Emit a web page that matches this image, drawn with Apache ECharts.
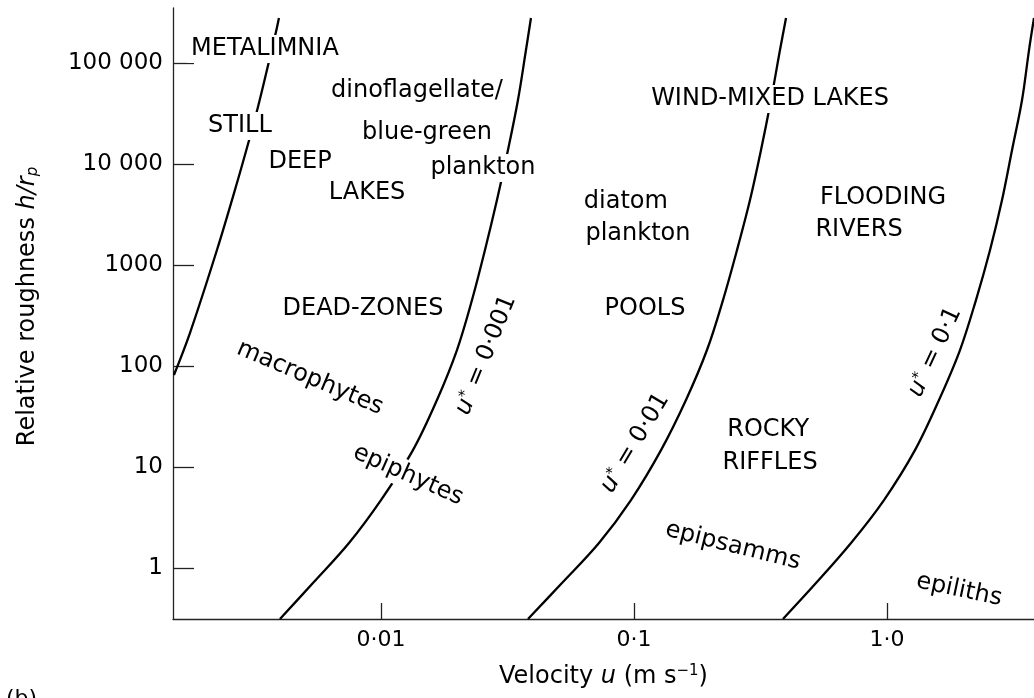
<!DOCTYPE html>
<html>
<head>
<meta charset="utf-8">
<script src="https://cdn.jsdelivr.net/npm/echarts@6/dist/echarts.min.js"></script>
<style>
html, body { margin: 0; padding: 0; background: #fff; }
#main { width: 1034px; height: 698px; }
</style>
</head>
<body>
<div id="main"></div>
<script>
var FONT = '"DejaVu Sans", sans-serif';
var INK = '#000';

// axis range and ticks (log scales)
var velMin = 0.001507, velMax = 3.81;
var roughMin = 0.3126, roughMax = 350800;
var velTicks = [0.01, 0.1, 1];
var velTickLabels = ['0·01', '0·1', '1·0'];
var roughTicks = [1, 10, 100, 1000, 10000, 100000];
var roughTickLabels = ['1', '10', '100', '1000', '10 000', '100 000'];

// left boundary line (still water)
var stillVel = [0.00152, 0.001758, 0.002248, 0.002697, 0.003036, 0.003265, 0.003543, 0.003846, 0.003952];
var stillRough = [81.5, 212, 1408, 6485, 18510, 36680, 85250, 202700, 279000];

// the three u* curves, read at the same roughness levels
var uRough = [0.313, 0.71, 1.77, 4.71, 14.7, 46.1, 144, 450, 1408, 4400, 13760, 43000, 134500, 279000];
var u1Vel = [0.003988, 0.005385, 0.007475, 0.01, 0.01338, 0.01665, 0.01997, 0.0229, 0.02577, 0.02874, 0.03177, 0.03479, 0.03742, 0.03916];
var u2Vel = [0.03811, 0.05192, 0.07272, 0.0973, 0.1279, 0.1605, 0.1943, 0.2248, 0.2554, 0.2874, 0.3177, 0.3479, 0.3776, 0.3989];
var u3Vel = [0.388, 0.524, 0.7208, 0.973, 1.29, 1.605, 1.943, 2.247, 2.554, 2.848, 3.12, 3.417, 3.641, 3.81];

// region annotations
var noteText = ['METALIMNIA', 'STILL', 'DEEP', 'LAKES', 'dinoflagellate/', 'blue-green', 'plankton',
  'WIND-MIXED LAKES', 'diatom', 'plankton', 'FLOODING', 'RIVERS', 'DEAD-ZONES', 'POOLS',
  'macrophytes', 'epiphytes',
  '{i|u}{s|*}{n| = 0·001}', '{i|u}{s|*}{n| = 0·01}', '{i|u}{s|*}{n| = 0·1}',
  'ROCKY', 'RIFFLES', 'epipsamms', 'epiliths'];
var noteVel = [0.00348, 0.00277, 0.00479, 0.00881, 0.01388, 0.0152, 0.0253,
  0.345, 0.0929, 0.1037, 0.964, 0.775, 0.00849, 0.1105,
  0.00524, 0.0128,
  0.026, 0.101, 1.548,
  0.339, 0.345, 0.246, 1.927];
var noteRough = [137700, 23800, 10470, 5160, 52800, 20280, 9120,
  44000, 4205, 2028, 4606, 2222, 367, 367,
  76, 8.3,
  128.5, 17.3, 137.6,
  23.2, 10.96, 1.65, 0.605];
var noteAngle = [0, 0, 0, 0, 0, 0, 0, 0, 0, 0, 0, 0, 0, 0, -23, -24, 68, 59, 65, 0, 0, -14, -12];
// labels that break the curve they sit on
var noteMasked = [0, 1, 6, 7, 15];

function pairs(xs, ys) {
  return xs.map(function (x, i) { return [x, ys[i]]; });
}

function curve(name, xs, ys) {
  return {
    name: name,
    type: 'line',
    data: pairs(xs, ys),
    smooth: 0.35,
    symbol: 'none',
    silent: true,
    z: 2,
    lineStyle: { color: INK, width: 2.3 }
  };
}

var myChart = echarts.init(document.getElementById('main'));

var option = {
  backgroundColor: '#fff',
  animation: false,
  grid: { left: 173, right: 0, top: 8, bottom: 79 },
  xAxis: {
    type: 'log',
    min: velMin,
    max: velMax,
    name: '{n|Velocity }{i|u}{n| (m s}{sup|−1}{n|)}',
    nameLocation: 'middle',
    nameGap: 45,
    nameTextStyle: {
      rich: {
        n: { fontFamily: FONT, fontSize: 24, color: INK, lineHeight: 26 },
        i: { fontFamily: FONT, fontSize: 24, color: INK, fontStyle: 'italic', lineHeight: 26 },
        sup: { fontFamily: FONT, fontSize: 15, color: INK, verticalAlign: 'top', lineHeight: 26, padding: [0, 0, 8, 0] }
      }
    },
    axisLine: { lineStyle: { color: '#222', width: 1.3 } },
    axisTick: { inside: true, length: 16, customValues: velTicks, lineStyle: { color: '#222', width: 1.3 } },
    axisLabel: {
      customValues: velTicks,
      margin: 10,
      fontFamily: FONT,
      fontSize: 22,
      color: INK,
      formatter: function (v) { return velTickLabels[velTicks.indexOf(v)] || ''; }
    },
    splitLine: { show: false },
    minorTick: { show: false }
  },
  yAxis: {
    type: 'log',
    min: roughMin,
    max: roughMax,
    name: '{n|Relative roughness }{i|h/r}{sub|p}',
    nameLocation: 'middle',
    nameGap: 132,
    nameTextStyle: {
      padding: [0, 0, 0, 14],
      rich: {
        n: { fontFamily: FONT, fontSize: 24, color: INK, lineHeight: 26 },
        i: { fontFamily: FONT, fontSize: 24, color: INK, fontStyle: 'italic', lineHeight: 26 },
        sub: { fontFamily: FONT, fontSize: 15, color: INK, fontStyle: 'italic', verticalAlign: 'bottom', lineHeight: 26 }
      }
    },
    axisLine: { lineStyle: { color: '#222', width: 1.3 } },
    axisTick: { inside: true, length: 21, customValues: roughTicks, lineStyle: { color: '#222', width: 1.3 } },
    axisLabel: {
      customValues: roughTicks,
      margin: 10,
      fontFamily: FONT,
      fontSize: 23,
      color: INK,
      formatter: function (v) { return roughTickLabels[roughTicks.indexOf(v)] || ''; }
    },
    splitLine: { show: false },
    minorTick: { show: false }
  },
  series: [
    curve('still', stillVel, stillRough),
    curve('u* = 0.001', u1Vel, uRough),
    curve('u* = 0.01', u2Vel, uRough),
    curve('u* = 0.1', u3Vel, uRough),
    {
      name: 'notes',
      type: 'scatter',
      silent: true,
      z: 5,
      symbolSize: 1,
      itemStyle: { color: 'rgba(255,255,255,0)', opacity: 1 },
      data: noteText.map(function (t, i) {
        var masked = noteMasked.indexOf(i) >= 0;
        return {
          value: [noteVel[i], noteRough[i]],
          label: {
            rotate: noteAngle[i],
            backgroundColor: masked ? '#fff' : 'transparent',
            padding: masked ? [2, 4] : 0
          }
        };
      }),
      label: {
        show: true,
        position: 'inside',
        opacity: 1,
        fontFamily: FONT,
        fontSize: 24,
        color: INK,
        formatter: function (p) { return noteText[p.dataIndex]; },
        rich: {
          n: { fontFamily: FONT, fontSize: 24, color: INK },
          i: { fontFamily: FONT, fontSize: 24, color: INK, fontStyle: 'italic' },
          s: { fontFamily: FONT, fontSize: 15, color: INK, verticalAlign: 'top' }
        }
      }
    }
  ],
  graphic: [{
    type: 'text',
    left: 6,
    top: 688,
    style: { text: '(b)', font: '22px ' + FONT, fill: INK }
  }]
};

myChart.setOption(option);
</script>
</body>
</html>
